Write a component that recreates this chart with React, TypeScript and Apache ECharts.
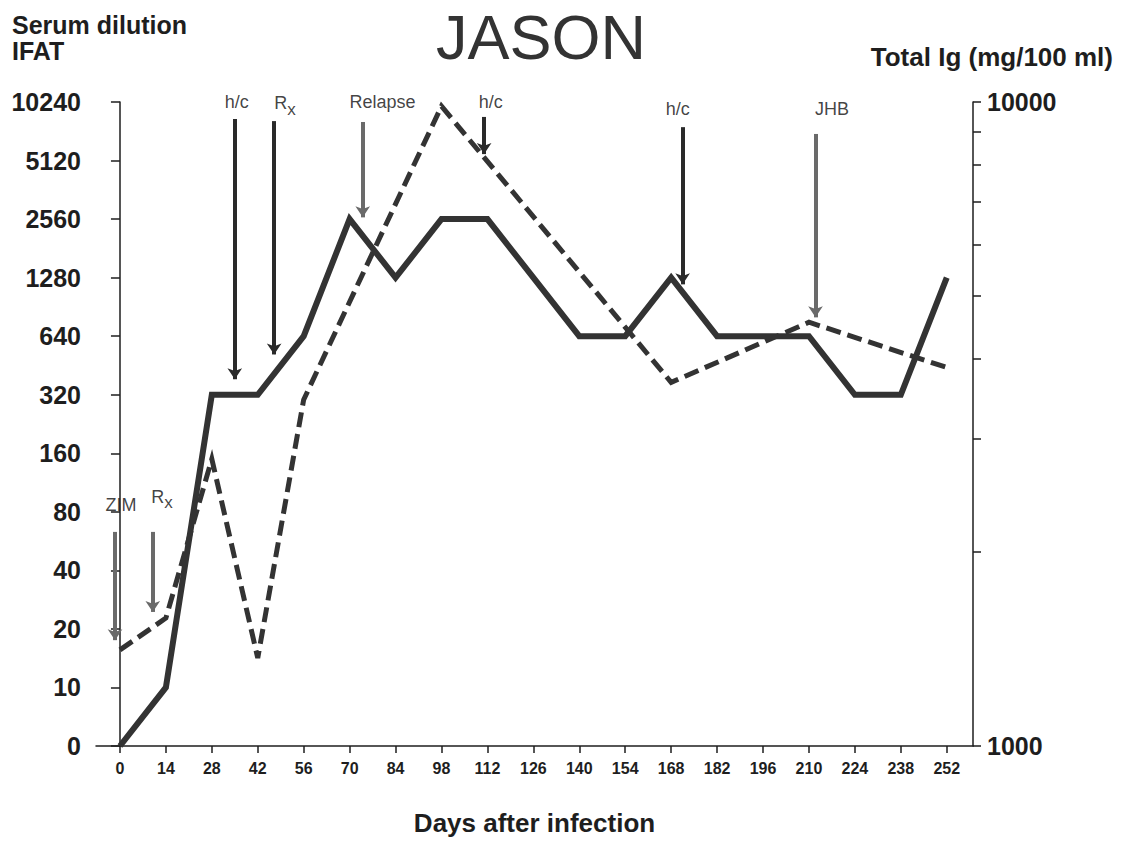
import React, { useEffect, useRef } from "react";
import * as echarts from "echarts";

// X axis (days after infection)
const dayTicks = [0, 14, 28, 42, 56, 70, 84, 98, 112, 126, 140, 154, 168, 182, 196, 210, 224, 238, 252];
// Left axis: serum dilution IFAT (evenly spaced doubling steps)
const titerLevels = ["0", "10", "20", "40", "80", "160", "320", "640", "1280", "2560", "5120", "10240"];
// Solid line: IFAT titre
const ifatDays = [0, 14, 28, 42, 56, 70, 84, 98, 112, 126, 140, 154, 168, 182, 196, 210, 224, 238, 252];
const ifatTiters = ["0", "10", "320", "320", "640", "2560", "1280", "2560", "2560", "1280", "640", "640", "1280", "640", "640", "640", "320", "320", "1280"];
// Dashed line: total Ig (mg/100 ml), right log axis
const igDays = [0, 14, 28, 42, 56, 98, 168, 210, 252];
const igValues = [1410, 1580, 2790, 1370, 3450, 9850, 3670, 4550, 3870];
// Right axis ticks and labels
const igTicks = [1000, 2000, 3000, 4000, 5000, 6000, 7000, 8000, 9000, 10000];
const igLabels = [1000, 10000];
// Event arrows (in data units: day, Ig value on right axis)
const eventNames = ["ZIM", "Rx", "h/c", "Rx", "Relapse", "h/c", "h/c", "JHB"];
const eventDays = [-1.5, 10, 35, 47, 74, 111, 171.5, 212];
const arrowFrom = [2150, 2150, 9410, 9340, 9310, 9480, 9140, 8920];
const arrowTo = [1460, 1615, 3710, 4055, 6620, 8300, 5210, 4630];
const dottedArrow = [true, true, false, false, true, false, false, true];
const labelDays = [0.3, 12.8, 35.6, 50.3, 80, 113, 170, 217];
const labelValues = [2370, 2440, 10000, 9950, 10000, 10000, 9750, 9750];

const FONT = "Liberation Sans, Arial, sans-serif";
const INK = "#1e1e1e";

export default function App() {
  const ref = useRef<HTMLDivElement>(null);
  useEffect(() => {
    if (!ref.current) return;
    const chart = echarts.init(ref.current, undefined, { renderer: "svg" });
    const arrows = eventDays.map((d, i) => [
      {
        coord: [d, arrowFrom[i]],
        lineStyle: {
          color: dottedArrow[i] ? "#6a6a6a" : "#2a2a2a",
          width: 4,
          type: "solid",
        },
      },
      { coord: [d, arrowTo[i]] },
    ]);
    const labels = eventNames.map((n, i) => ({ name: n, value: [labelDays[i], labelValues[i]] }));
    chart.setOption({
      animation: false,
      backgroundColor: "#ffffff",
      title: [
        {
          text: "JASON",
          left: 436,
          top: 5,
          padding: 0,
          textStyle: { fontFamily: FONT, fontSize: 63, fontWeight: "normal", color: "#333" },
        },
        {
          text: "Serum dilution\nIFAT",
          left: 12,
          top: 12,
          padding: 0,
          textStyle: { fontFamily: FONT, fontSize: 25, fontWeight: "bold", color: INK, lineHeight: 26 },
        },
        {
          text: "Total Ig (mg/100 ml)",
          right: 13,
          top: 44,
          padding: 0,
          textStyle: { fontFamily: FONT, fontSize: 26, fontWeight: "bold", color: INK },
        },
      ],
      grid: { left: 96, right: 153, top: 102, bottom: 95, containLabel: false },
      xAxis: {
        type: "value",
        min: -7.3,
        max: 260,
        name: "Days after infection",
        nameLocation: "middle",
        nameGap: 64,
        nameTextStyle: { fontFamily: FONT, fontSize: 26, fontWeight: "bold", color: INK },
        axisLine: { show: true, lineStyle: { color: INK, width: 1.5 } },
        axisTick: { show: true, length: 7, customValues: dayTicks, lineStyle: { color: INK, width: 1.5 } },
        axisLabel: {
          customValues: dayTicks,
          margin: 14,
          fontFamily: FONT,
          fontSize: 16,
          fontWeight: "bold",
          color: INK,
        },
        splitLine: { show: false },
      },
      yAxis: [
        {
          type: "category",
          data: titerLevels,
          boundaryGap: false,
          position: "left",
          axisLine: { show: true, lineStyle: { color: INK, width: 1.5 } },
          axisTick: { show: true, length: 9, lineStyle: { color: INK, width: 1.5 } },
          axisLabel: { margin: 15, fontFamily: FONT, fontSize: 25, fontWeight: "bold", color: INK },
          splitLine: { show: false },
        },
        {
          type: "log",
          logBase: 10,
          min: 1000,
          max: 10000,
          position: "right",
          axisLine: { show: true, lineStyle: { color: INK, width: 1.5 } },
          axisTick: { show: true, length: 8, customValues: igTicks, lineStyle: { color: INK, width: 1.5 } },
          axisLabel: {
            customValues: igLabels,
            formatter: (v: number) => String(Math.round(v)),
            margin: 14,
            fontFamily: FONT,
            fontSize: 25,
            fontWeight: "bold",
            color: INK,
          },
          splitLine: { show: false },
        },
      ],
      series: [
        {
          name: "Total Ig",
          type: "line",
          xAxisIndex: 0,
          yAxisIndex: 1,
          data: igDays.map((d, i) => [d, igValues[i]]),
          showSymbol: false,
          symbol: "none",
          lineStyle: { color: "#333", width: 5, type: [15, 7], join: "miter" },
          z: 2,
          markLine: {
            silent: true,
            symbol: ["none", "arrow"],
            symbolSize: 11,
            label: { show: false },
            emphasis: { disabled: true },
            data: arrows,
          },
        },
        {
          name: "IFAT",
          type: "line",
          xAxisIndex: 0,
          yAxisIndex: 0,
          data: ifatDays.map((d, i) => [d, ifatTiters[i]]),
          showSymbol: false,
          symbol: "none",
          lineStyle: { color: "#333", width: 6, join: "miter" },
          z: 3,
        },
        {
          name: "events",
          type: "scatter",
          xAxisIndex: 0,
          yAxisIndex: 1,
          clip: false,
          symbolSize: 0,
          silent: true,
          data: labels,
          label: {
            show: true,
            position: "inside",
            fontFamily: FONT,
            fontSize: 18,
            color: "#111",
            textBorderWidth: 0,
            formatter: (p: any) => (p.name === "Rx" ? "R{s|x}" : p.name),
            rich: {
              s: { fontFamily: FONT, fontSize: 17, color: "#111", padding: [12, 0, 0, 0] },
            },
          },
        },
      ],
    });
    return () => chart.dispose();
  }, []);
  return (
    <div
      ref={ref}
      style={{ position: "absolute", left: 0, top: 0, width: 1126, height: 841, background: "#fff" }}
    />
  );
}
